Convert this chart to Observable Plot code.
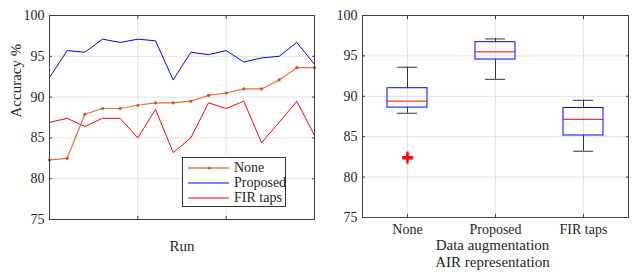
<!DOCTYPE html>
<html><head><meta charset="utf-8">
<script src="https://cdn.jsdelivr.net/npm/d3@7"></script>
<script src="https://cdn.jsdelivr.net/npm/@observablehq/plot@0.6"></script>
<style>
body{margin:0;background:#fff;}
#wrap{position:relative;width:639px;height:279px;font-family:"Liberation Serif","Times New Roman",serif;overflow:hidden;}
#wrap svg text{font-family:"Liberation Serif","Times New Roman",serif !important;}
#left{position:absolute;left:0;top:0;}
#right{position:absolute;left:320px;top:0;}
#legend{position:absolute;left:182px;top:157px;width:102px;height:48px;border:1px solid #333;background:#fff;font-size:14px;color:#262626;}
.row{position:absolute;left:0;height:16px;width:102px;}
.row svg{position:absolute;left:5px;top:0;}
.row span{position:absolute;left:51px;top:0;line-height:16px;}
</style></head><body>
<div id="wrap"><div id="left"></div><div id="right"></div>
<div id="legend">
 <div class="row" style="top:2px"><svg width="42" height="16"><line x1="0" y1="8" x2="41" y2="8" stroke="#E8864F" stroke-width="2" opacity="0.8"/><circle cx="21" cy="8" r="1.5" fill="#D95319"/></svg><span>None</span></div>
 <div class="row" style="top:17px"><svg width="42" height="16"><line x1="0" y1="8" x2="41" y2="8" stroke="#0000FF" stroke-width="1"/></svg><span>Proposed</span></div>
 <div class="row" style="top:32px"><svg width="42" height="16"><line x1="0" y1="8" x2="41" y2="8" stroke="#FF0000" stroke-width="1"/></svg><span>FIR taps</span></div>
</div>
</div>
<script>
const runs = [0,1,2,3,4,5,6,7,8,9,10,11,12,13,14,15];
const noneAcc = [82.3,82.5,87.9,88.6,88.6,89.0,89.3,89.3,89.5,90.2,90.5,91.0,91.0,92.1,93.6,93.6];
const proposedAcc = [92.4,95.7,95.5,97.1,96.7,97.1,96.9,92.1,95.5,95.2,95.7,94.3,94.8,95.0,96.7,94.0];
const firAcc = [86.9,87.4,86.4,87.4,87.4,85.0,88.5,83.2,85.0,89.3,88.6,89.5,84.4,86.9,89.5,85.3];
const categories = ["None","Proposed","FIR taps"];
const yTicks = [75,80,85,90,95,100];
const runTicks = [5,10];

const font = "'Liberation Serif', 'Times New Roman', serif";
const gridStroke = "#e3e3e3";
const frameStroke = "#404040";

const toRows = (vals) => vals.map((v,i)=>({run: runs[i], acc: v}));

const left = Plot.plot({
  width: 320, height: 279,
  marginLeft: 49, marginRight: 6, marginTop: 15, marginBottom: 60,
  style: {fontFamily: font, fontSize: "14px", color: "#262626", background: "white"},
  x: {domain: [0, 15]},
  y: {domain: [75, 100]},
  marks: [
    Plot.gridX({ticks: runTicks, stroke: gridStroke, strokeOpacity: 1}),
    Plot.gridY({ticks: yTicks, stroke: gridStroke, strokeOpacity: 1}),
    Plot.axisY({ticks: yTicks, tickSize: 0, tickPadding: 5, fontSize: 14, label: null}),
    Plot.axisY({ticks: yTicks, tickSize: -3, fill: "none", label: null, stroke: frameStroke}),
    Plot.axisY({ticks: yTicks, anchor: "right", tickSize: -3, fill: "none", label: null, stroke: frameStroke}),
    Plot.axisX({ticks: runTicks, tickSize: -3, fill: "none", label: null, stroke: frameStroke}),
    Plot.axisX({ticks: runTicks, anchor: "top", tickSize: -3, fill: "none", label: null, stroke: frameStroke}),
    Plot.line(toRows(firAcc), {x: "run", y: "acc", stroke: "#FF0000", strokeWidth: 1}),
    Plot.line(toRows(proposedAcc), {x: "run", y: "acc", stroke: "#0000FF", strokeWidth: 1}),
    Plot.line(toRows(noneAcc), {x: "run", y: "acc", stroke: "#E36E37", strokeWidth: 1.2}),
    Plot.dot(toRows(noneAcc), {x: "run", y: "acc", r: 1.6, fill: "#D95319", stroke: "none"}),
    Plot.frame({stroke: frameStroke}),
    Plot.text(["Run"], {text: d => d, frameAnchor: "bottom", dy: 31, fontSize: 15}),
    Plot.text(["Accuracy %"], {text: d => d, frameAnchor: "left", rotate: -90, dx: -33, fontSize: 15})
  ]
});
document.getElementById("left").appendChild(left);

// MATLAB-style box statistics
function mquantile(sorted, p) {
  const n = sorted.length, pos = n * p + 0.5;
  if (pos <= 1) return sorted[0];
  if (pos >= n) return sorted[n - 1];
  const lo = Math.floor(pos), f = pos - lo;
  return sorted[lo - 1] + f * (sorted[lo] - sorted[lo - 1]);
}
const seriesList = [noneAcc, proposedAcc, firAcc];
const stats = categories.map((cat, i) => {
  const s = seriesList[i].slice().sort(d3.ascending);
  const q1 = mquantile(s, 0.25), med = mquantile(s, 0.5), q3 = mquantile(s, 0.75);
  const iqr = q3 - q1;
  const inside = s.filter(v => v >= q1 - 1.5 * iqr && v <= q3 + 1.5 * iqr);
  return {cat, q1, med, q3, lo: d3.min(inside), hi: d3.max(inside),
          outliers: s.filter(v => v < q1 - 1.5 * iqr || v > q3 + 1.5 * iqr)};
});
const outliers = stats.flatMap(d => d.outliers.map(v => ({cat: d.cat, acc: v})));

const right = Plot.plot({
  width: 319, height: 279,
  marginLeft: 42, marginRight: 11, marginTop: 15, marginBottom: 62,
  style: {fontFamily: font, fontSize: "14px", color: "#262626", background: "white"},
  x: {type: "band", domain: categories, paddingInner: 0.55, paddingOuter: 0.275},
  y: {domain: [75, 100]},
  marks: [
    Plot.gridX({stroke: gridStroke, strokeOpacity: 1}),
    Plot.gridY({ticks: yTicks, stroke: gridStroke, strokeOpacity: 1}),
    Plot.axisY({ticks: yTicks, tickSize: 0, tickPadding: 5, fontSize: 14, label: null}),
    Plot.axisY({ticks: yTicks, tickSize: -3, fill: "none", label: null, stroke: frameStroke}),
    Plot.axisY({ticks: yTicks, anchor: "right", tickSize: -3, fill: "none", label: null, stroke: frameStroke}),
    Plot.axisX({tickSize: 0, tickPadding: 7, fontSize: 14, label: null}),
    Plot.axisX({tickSize: -3, fill: "none", label: null, stroke: frameStroke}),
    Plot.axisX({anchor: "top", tickSize: -3, fill: "none", label: null, stroke: frameStroke}),
    Plot.ruleX(stats, {x: "cat", y1: "q3", y2: "hi", stroke: "#333"}),
    Plot.ruleX(stats, {x: "cat", y1: "lo", y2: "q1", stroke: "#333"}),
    Plot.tickY(stats, {x: "cat", y: "hi", stroke: "#333", insetLeft: 10, insetRight: 10}),
    Plot.tickY(stats, {x: "cat", y: "lo", stroke: "#333", insetLeft: 10, insetRight: 10}),
    Plot.barY(stats, {x: "cat", y1: "q1", y2: "q3", fill: "none", stroke: "#0000FF", strokeWidth: 1}),
    Plot.tickY(stats, {x: "cat", y: "med", stroke: "#FF0000", strokeWidth: 1}),
    Plot.dot(outliers, {x: "cat", y: "acc", symbol: "plus", r: 3.5, stroke: "#FF0000", strokeWidth: 2}),
    Plot.frame({stroke: frameStroke}),
    Plot.text(["Data augmentation"], {text: d => d, frameAnchor: "bottom", dy: 32, dx: -3, fontSize: 15}),
    Plot.text(["AIR representation"], {text: d => d, frameAnchor: "bottom", dy: 49.5, dx: -3, fontSize: 15})
  ]
});
document.getElementById("right").appendChild(right);
</script>
</body></html>
